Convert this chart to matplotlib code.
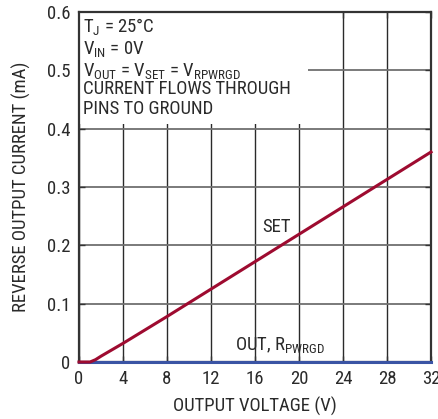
import numpy as np
import matplotlib
matplotlib.use('Agg')
from matplotlib import pyplot as plt
from matplotlib.patches import Rectangle

plt.rcParams['font.family'] = ['Roboto Condensed', 'DejaVu Sans']
plt.rcParams['mathtext.fontset'] = 'custom'
plt.rcParams['mathtext.rm'] = 'Roboto Condensed'
plt.rcParams['mathtext.it'] = 'Roboto Condensed'
plt.rcParams['mathtext.default'] = 'rm'

# data
set_v = [0, 0.5, 1.0, 1.5, 2, 4, 8, 12, 16, 20, 24, 28, 32]
set_i = [0, 0, 0, 0.004, 0.01, 0.032, 0.078, 0.125, 0.172, 0.219, 0.266, 0.313, 0.36]
out_v = [0, 32]
out_i = [0, 0]
xticks = [0, 4, 8, 12, 16, 20, 24, 28, 32]
yticks = [0, 0.1, 0.2, 0.3, 0.4, 0.5, 0.6]
ytick_labels = ['0', '0.1', '0.2', '0.3', '0.4', '0.5', '0.6']

fig = plt.figure(figsize=(4.39, 4.19), dpi=100)
ax = fig.add_axes([0.18, 0.136, 0.8018, 0.8354])
ax.set_xlim(0, 32)
ax.set_ylim(0, 0.6)
ax.set_xticks(xticks)
ax.set_yticks(yticks)
ax.set_yticklabels(ytick_labels)
ax.xaxis.grid(True, color='#2a2a2a', lw=1.0, zorder=1)
ax.yaxis.grid(True, color='#707070', lw=1.3, zorder=1)
ax.set_axisbelow(True)
ax.tick_params(direction='in', length=4, width=1, colors='#333333', labelsize=13.5,
               top=True, right=True, labelcolor='#2a2a2a', pad=6)
for s in ax.spines.values():
    s.set_color('#333333')
    s.set_linewidth(1.6)

# white box behind the notes
ax.add_patch(Rectangle((0, 0.408), 20.8, 0.2, facecolor='white', edgecolor='none', zorder=1.5))

ax.plot(out_v, out_i, color='#3a54a4', lw=2.2, zorder=3, clip_on=False)
ax.plot(set_v, set_i, color='#9e0b30', lw=2.2, zorder=4, clip_on=False)

tc = '#2a2a2a'
fs = 13.5
ax.text(0.4, 0.566, r'T$_{J}$ = 25°C', fontsize=fs, color=tc, zorder=5)
ax.text(0.4, 0.528, r'V$_{IN}$ = 0V', fontsize=fs, color=tc, zorder=5)
ax.text(0.4, 0.490, r'V$_{OUT}$ = V$_{SET}$ = V$_{RPWRGD}$', fontsize=fs, color=tc, zorder=5)
ax.text(0.4, 0.459, 'CURRENT FLOWS THROUGH', fontsize=fs, color=tc, zorder=5)
ax.text(0.4, 0.425, 'PINS TO GROUND', fontsize=fs, color=tc, zorder=5)
ax.text(16.7, 0.223, 'SET', fontsize=fs, color=tc, zorder=5)
ax.text(14.2, 0.02, r'OUT, R$_{PWRGD}$', fontsize=fs, color=tc, zorder=5)

ax.set_xlabel('OUTPUT VOLTAGE (V)', fontsize=13.5, color=tc, labelpad=6)
ax.set_ylabel('REVERSE OUTPUT CURRENT (mA)', fontsize=13.5, color=tc, labelpad=12)

fig.savefig('out.png', dpi=100)
